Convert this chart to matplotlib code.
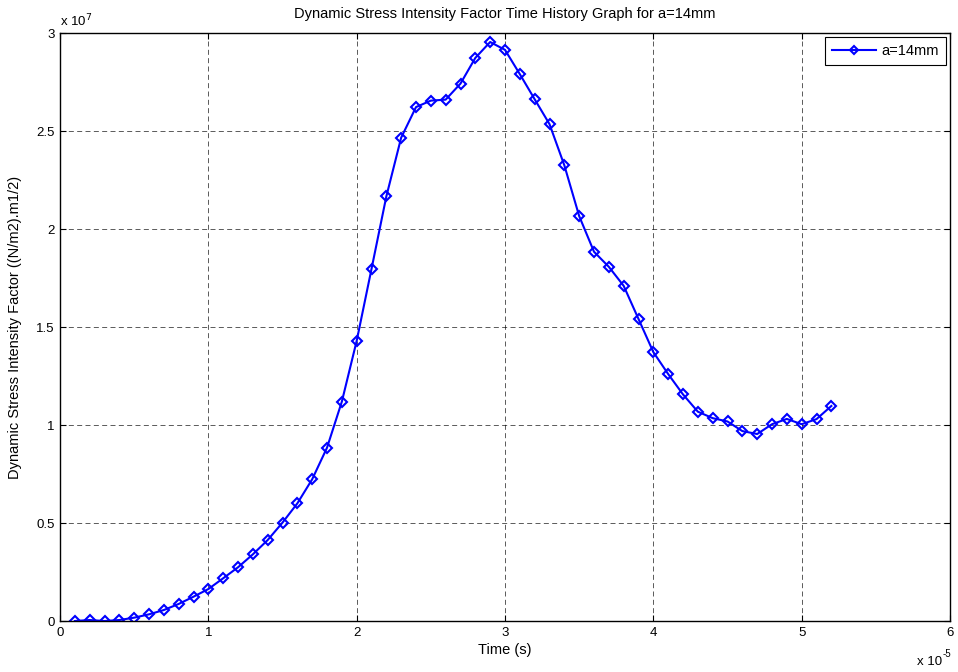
import matplotlib
matplotlib.use("Agg")
import matplotlib.pyplot as plt
import numpy as np

plt.rcParams['font.family'] = ['Liberation Sans', 'DejaVu Sans']

# Time samples (units of 1e-5 s) and dynamic SIF values (units of 1e7)
time_e5 = [0.1, 0.2, 0.3, 0.4, 0.5, 0.6, 0.7, 0.8, 0.9, 1.0,
           1.1, 1.2, 1.3, 1.4, 1.5, 1.6, 1.7, 1.8, 1.9, 2.0,
           2.1, 2.2, 2.3, 2.4, 2.5, 2.6, 2.7, 2.8, 2.9, 3.0,
           3.1, 3.2, 3.3, 3.4, 3.5, 3.6, 3.7, 3.8, 3.9, 4.0,
           4.1, 4.2, 4.3, 4.4, 4.5, 4.6, 4.7, 4.8, 4.9, 5.0,
           5.1, 5.2]
sif_e7 = [0.000, 0.005, 0.000, 0.005, 0.017, 0.034, 0.056, 0.087, 0.124, 0.163,
          0.218, 0.274, 0.340, 0.413, 0.502, 0.600, 0.723, 0.884, 1.119, 1.429,
          1.796, 2.166, 2.466, 2.622, 2.655, 2.660, 2.742, 2.873, 2.954, 2.914,
          2.790, 2.662, 2.535, 2.325, 2.066, 1.884, 1.807, 1.710, 1.541, 1.372,
          1.260, 1.156, 1.068, 1.035, 1.018, 0.969, 0.954, 1.004, 1.031, 1.004,
          1.030, 1.097]

x_ticks = [0, 1, 2, 3, 4, 5, 6]
y_ticks = [0, 0.5, 1, 1.5, 2, 2.5, 3]
x_tick_labels = ['0', '1', '2', '3', '4', '5', '6']
y_tick_labels = ['0', '0.5', '1', '1.5', '2', '2.5', '3']

title_text = 'Dynamic Stress Intensity Factor Time History Graph for a=14mm'
series_label = 'a=14mm'

fig = plt.figure(figsize=(9.58, 6.72), dpi=100)
ax = fig.add_axes([60 / 958, 51 / 672, 890 / 958, 588 / 672])

ax.plot(time_e5, sif_e7, color='#0000ff', lw=1.5, marker='D', ms=5.2,
        mfc='none', mec='#0000ff', mew=1.5, label=series_label)

ax.set_xlim(0, 6)
ax.set_ylim(0, 3)
ax.set_xticks(x_ticks)
ax.set_xticklabels(x_tick_labels)
ax.set_yticks(y_ticks)
ax.set_yticklabels(y_tick_labels)
ax.tick_params(direction='in', length=4, width=0.8, top=True, right=True,
               labelsize=9.5, pad=4)
ax.grid(True, color='black', linestyle=(0, (6, 4)), linewidth=0.6, alpha=0.75)
for s in ax.spines.values():
    s.set_linewidth(1.0)
    s.set_color('black')

ax.set_title(title_text, fontsize=10.5, pad=11)
ax.set_xlabel('Time (s)', fontsize=10.5, labelpad=3)
ax.set_ylabel('Dynamic Stress Intensity Factor ((N/m2).m1/2)', fontsize=10.5,
              labelpad=10)

# axis multipliers
ax.text(0.0, 1.006, r'x 10$^{7}$', transform=ax.transAxes, fontsize=9.5,
        ha='left', va='bottom')
ax.text(0.991, -0.060, 'x 10', transform=ax.transAxes, fontsize=9.5,
        ha='right', va='top')
ax.annotate('-5', xy=(0.991, -0.060), xycoords='axes fraction',
            xytext=(0.5, 5), textcoords='offset points', fontsize=7,
            ha='left', va='top')

leg = ax.legend(loc='upper right', fontsize=10.5, frameon=True, fancybox=False,
                edgecolor='black', framealpha=1, borderaxespad=0.3,
                handlelength=3.0, handletextpad=0.4, borderpad=0.45,
                markerscale=0.85)
leg.get_frame().set_linewidth(0.8)

fig.savefig('out.png', dpi=100)
